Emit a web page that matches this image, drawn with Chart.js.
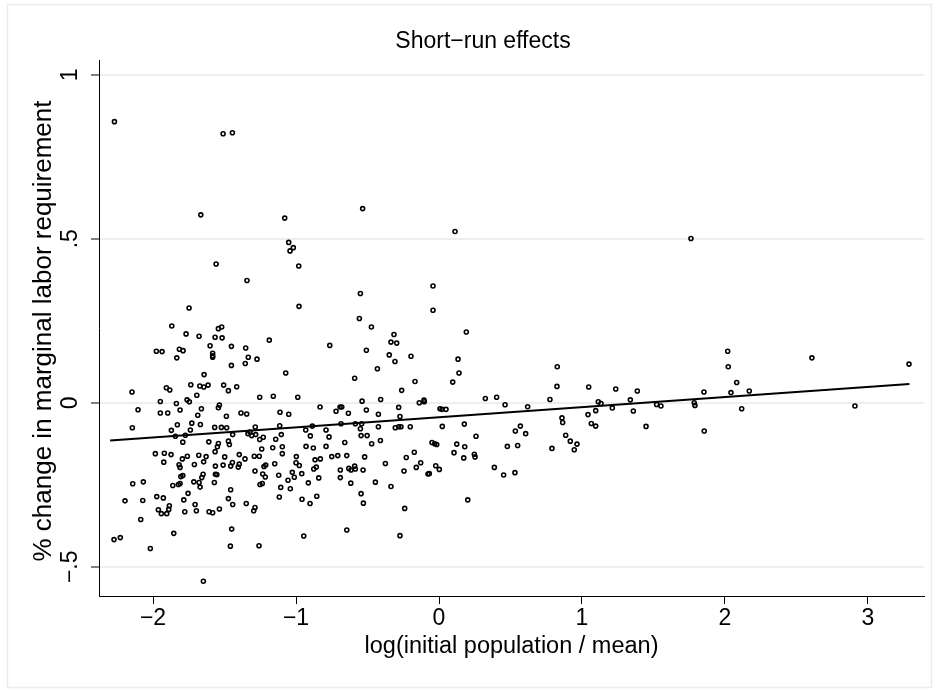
<!DOCTYPE html>
<html><head><meta charset="utf-8">
<script src="https://cdn.jsdelivr.net/npm/chart.js@4/dist/chart.umd.min.js"></script>
<style>html,body{margin:0;padding:0;background:#fff;}#wrap{width:939px;height:689px;}</style>
</head><body><div id="wrap"><canvas id="c" width="939" height="689"></canvas></div>
<script>
const xVals=[-2.27,-1.51,-1.445,-1.666,-1.559,-1.343,-1.748,-1.869,-1.543,-1.52,
-0.534,-1.079,-1.051,-1.019,-1.042,-0.981,-0.55,-0.979,-0.557,-0.473,
0.112,-0.042,-0.042,0.191,-0.196,0.133,0.14,-0.168,0.096,-0.261,0.827,0.825,0.324,0.403,0.776,-0.105,
-0.138,-0.103,0.007,0.021,0.049,0.462,0.62,-0.273,-0.266,-0.201,0.023,0.177,0.259,0.534,0.569,0.606,-0.049,-0.03,-0.016,0.124,0.18,0.478,0.55,0.79,-0.173,0.105,0.247,0.252,0.173,-0.229,-0.128,-0.159,-0.023,0.002,-0.245,-0.077,-0.068,0.387,0.452,0.531,0.201,-0.24,-0.273,
1.762,2.019,2.023,2.082,2.042,2.17,2.117,2.608,3.287,2.909,1.853,1.855,1.785,1.79,1.522,1.552,1.448,1.387,1.338,1.359,1.236,1.212,1.114,1.133,1.096,1.047,1.042,1.065,1.096,0.86,0.865,0.886,0.918,0.965,0.946,
-1.769,-1.678,-1.566,-1.517,-1.977,-1.937,-1.816,-1.79,-1.834,-1.601,-1.452,-1.352,-1.583,-1.583,-1.583,-1.452,-1.355,-1.334,-1.643,-2.147,-1.907,-1.883,-1.736,-1.673,-1.645,-1.615,-1.506,-1.473,-1.415,-1.694,-1.949,-1.837,-1.762,-1.746,-1.536,-1.543,-2.105,-1.949,-1.897,-1.811,-1.662,-1.687,-1.487,-1.385,-1.345,-2.145,-1.872,-1.83,-1.739,-1.729,-1.669,-1.569,-1.522,-1.485,-1.844,-1.774,-1.443,-1.792,-1.61,-1.543,-1.55,-1.473,-1.466,-1.336,
-1.984,-1.921,-1.874,-1.795,-1.76,-1.68,-1.629,-1.566,-1.499,-1.397,-1.357,-1.925,-1.818,-1.811,-1.711,-1.646,-1.564,-1.51,-1.445,-1.457,-1.397,-1.404,-1.792,-1.806,-1.65,-1.659,-1.564,-1.554,-2.142,-2.068,-1.862,-1.823,-1.811,-1.715,-1.678,-1.671,-1.571,-1.755,-1.457,-1.974,-1.928,-2.196,-2.072,-1.785,-1.473,-1.443,-1.348,-1.886,-1.89,-1.963,-1.942,-1.904,-1.706,-1.697,-1.778,-1.608,-1.583,-1.536,-2.086,-1.855,-1.45,-2.273,-2.229,-2.019,-1.459,-1.648,
-1.187,-0.764,-1.273,-1.072,-0.508,-0.315,-0.336,-0.296,-0.348,-0.308,-0.431,-0.59,-1.254,-1.159,-0.988,-0.832,-0.692,-0.68,-0.72,-0.634,-0.538,-0.408,-0.508,-0.424,-0.282,-1.112,-1.051,-1.285,-1.114,-0.886,-0.685,-0.585,-0.541,-0.55,-0.424,-0.306,-0.282,-1.322,-1.31,-1.282,-0.932,-0.79,-1.103,-0.9,-0.769,-0.545,-0.503,-1.254,-1.229,-1.142,-0.659,-0.41,-0.471,-1.163,-1.096,-0.93,-0.879,-0.79,-1.24,
-1.292,-1.257,-1.096,-0.998,-0.75,-0.708,-0.645,-0.52,-0.867,-0.83,-1.149,-1.224,-1.212,-1.0,-0.977,-0.876,-0.858,-1.287,-0.69,-0.631,-0.615,-0.59,-0.585,-0.531,-0.375,-1.026,-0.96,-1.233,-1.215,-1.121,-1.012,-0.69,-0.841,-1.056,-1.252,-1.236,-0.914,-0.617,-0.445,-0.336,-1.107,-1.04,-0.545,-1.117,-0.855,-0.958,-0.902,-0.529,-1.287,-1.296,-0.645,-0.946,-1.259];
const yVals=[0.857,0.82,0.823,0.573,0.423,0.373,0.289,0.234,0.226,0.231,
0.592,0.563,0.489,0.473,0.463,0.417,0.333,0.294,0.257,0.231,
0.522,0.356,0.282,0.216,0.142,0.133,0.091,0.065,0.063,0.038,0.11,0.05,0.013,0.017,0.01,0.008,
0.0,0.003,-0.018,-0.02,-0.02,-0.006,-0.012,-0.042,-0.073,-0.073,-0.072,-0.065,-0.102,-0.086,-0.071,-0.094,-0.121,-0.125,-0.127,-0.126,-0.134,-0.133,-0.13,-0.139,-0.151,-0.152,-0.157,-0.165,-0.168,-0.167,-0.183,-0.197,-0.192,-0.203,-0.208,-0.217,-0.216,-0.197,-0.22,-0.213,-0.296,-0.322,-0.405,
0.501,0.157,0.11,0.062,0.031,0.036,-0.018,0.137,0.118,-0.01,0.033,-0.086,0.0,-0.008,-0.005,-0.01,-0.072,0.036,0.009,-0.025,0.042,-0.016,0.003,-0.002,-0.024,0.048,-0.036,-0.063,-0.071,-0.046,-0.06,-0.099,-0.117,-0.126,-0.143,
0.21,0.203,0.2,0.198,0.157,0.156,0.163,0.159,0.137,0.174,0.172,0.167,0.151,0.143,0.139,0.114,0.12,0.139,0.086,0.033,0.046,0.039,0.055,0.051,0.048,0.054,0.054,0.037,0.049,0.023,0.004,-0.002,0.009,0.003,-0.007,-0.015,-0.021,-0.031,-0.031,-0.022,-0.018,-0.038,-0.041,-0.031,-0.034,-0.076,-0.084,-0.067,-0.083,-0.062,-0.066,-0.075,-0.075,-0.076,-0.102,-0.099,-0.097,-0.12,-0.119,-0.124,-0.134,-0.117,-0.127,-0.094,
-0.155,-0.154,-0.158,-0.171,-0.163,-0.16,-0.164,-0.149,-0.165,-0.158,-0.171,-0.181,-0.189,-0.197,-0.188,-0.18,-0.193,-0.19,-0.182,-0.193,-0.187,-0.196,-0.222,-0.225,-0.218,-0.228,-0.218,-0.219,-0.247,-0.241,-0.252,-0.249,-0.246,-0.241,-0.243,-0.257,-0.243,-0.276,-0.265,-0.286,-0.29,-0.299,-0.298,-0.296,-0.292,-0.31,-0.307,-0.314,-0.325,-0.326,-0.338,-0.338,-0.31,-0.329,-0.332,-0.332,-0.335,-0.324,-0.356,-0.398,-0.385,-0.417,-0.411,-0.444,-0.437,-0.544,
0.191,0.175,0.133,0.091,0.16,0.208,0.185,0.182,0.146,0.126,0.104,0.075,0.017,0.02,0.017,-0.013,-0.013,-0.013,-0.026,-0.032,0.005,0.01,-0.022,-0.035,-0.014,-0.029,-0.035,-0.074,-0.07,-0.071,-0.064,-0.064,-0.064,-0.079,-0.073,-0.076,-0.073,-0.089,-0.1,-0.097,-0.083,-0.083,-0.097,-0.101,-0.104,-0.1,-0.1,-0.112,-0.105,-0.111,-0.121,-0.115,-0.125,-0.137,-0.134,-0.133,-0.138,-0.133,-0.141,
-0.163,-0.163,-0.155,-0.164,-0.164,-0.161,-0.161,-0.165,-0.174,-0.171,-0.186,-0.194,-0.19,-0.183,-0.191,-0.202,-0.196,-0.208,-0.205,-0.2,-0.205,-0.193,-0.202,-0.205,-0.185,-0.212,-0.216,-0.217,-0.226,-0.221,-0.227,-0.228,-0.229,-0.236,-0.249,-0.246,-0.244,-0.245,-0.242,-0.255,-0.258,-0.262,-0.277,-0.287,-0.285,-0.294,-0.307,-0.306,-0.319,-0.329,-0.388,-0.406,-0.436];
const fitX=[-2.30,3.29];
const fitY=[-0.115,0.057];
const xTicks=[-2,-1,0,1,2,3];
const xTickLabels=['\u22122','\u22121','0','1','2','3'];
const yTicks=[-0.5,0,0.5,1];
const yTickLabels=['\u2212.5','0','.5','1'];
const chartTitle='Short\u2212run effects';
const xTitle='log(initial population / mean)';
const yTitle='% change in marginal labor requirement';

const FONT='"Liberation Sans", Arial, Helvetica, sans-serif';
const scatterData=xVals.map((x,i)=>({x:x,y:yVals[i]}));
const fitData=fitX.map((x,i)=>({x:x,y:fitY[i]}));

const textPlugin={
  id:'textPlugin',
  beforeDraw(chart){
    const c=chart.ctx;c.save();c.fillStyle='#fff';c.fillRect(0,0,chart.width,chart.height);c.restore();
  },
  afterDraw(chart){
    const c=chart.ctx, xs=chart.scales.x, ys=chart.scales.y, ca=chart.chartArea;
    c.save();
    c.strokeStyle='#e6eef0';c.lineWidth=1.5;c.strokeRect(7.5,4.5,924,683);
    c.fillStyle='#000';c.textAlign='center';c.textBaseline='middle';
    c.font='23px '+FONT;
    c.fillText(chartTitle,483,42);
    xTicks.forEach((v,i)=>{c.fillText(xTickLabels[i],xs.getPixelForValue(v),619);});
    c.font='23.5px '+FONT;
    c.fillText(xTitle,(ca.left+ca.right)/2,647);
    c.font='23px '+FONT;
    yTicks.forEach((v,i)=>{c.save();c.translate(71,ys.getPixelForValue(v));c.rotate(-Math.PI/2);c.fillText(yTickLabels[i],0,0);c.restore();});
    c.font='26px '+FONT;
    c.save();c.translate(44,331);c.rotate(-Math.PI/2);c.fillText(yTitle,0,0);c.restore();
    c.restore();
  }
};

new Chart(document.getElementById('c'),{
  type:'scatter',
  data:{datasets:[
    {label:'fit',data:fitData,showLine:true,borderColor:'#000',borderWidth:2,pointRadius:0,fill:false,order:0},
    {label:'obs',data:scatterData,pointStyle:'circle',pointRadius:2,borderWidth:1.6,borderColor:'#000',backgroundColor:'rgba(255,255,255,0)',order:1}
  ]},
  options:{
    responsive:false,devicePixelRatio:1,animation:false,
    layout:{padding:{left:0,right:15,top:60,bottom:0}},
    plugins:{legend:{display:false},tooltip:{enabled:false},title:{display:false}},
    scales:{
      x:{type:'linear',min:-2.378,max:3.392,
        afterBuildTicks:s=>{s.ticks=xTicks.map(v=>({value:v}));},
        afterFit:s=>{s.height=93;},
        ticks:{display:false},
        grid:{drawOnChartArea:false,drawTicks:true,tickLength:8,tickColor:'#000',tickWidth:1},
        border:{display:true,color:'#000',width:1}},
      y:{type:'linear',min:-0.589,max:1.045,
        afterBuildTicks:s=>{s.ticks=yTicks.map(v=>({value:v}));},
        afterFit:s=>{s.width=99;},
        ticks:{display:false},
        grid:{drawOnChartArea:true,color:'#e8f0f2',lineWidth:2,drawTicks:true,tickLength:8,tickColor:'#000',tickWidth:1},
        border:{display:true,color:'#000',width:1}}
    }
  },
  plugins:[textPlugin]
});
</script></body></html>
